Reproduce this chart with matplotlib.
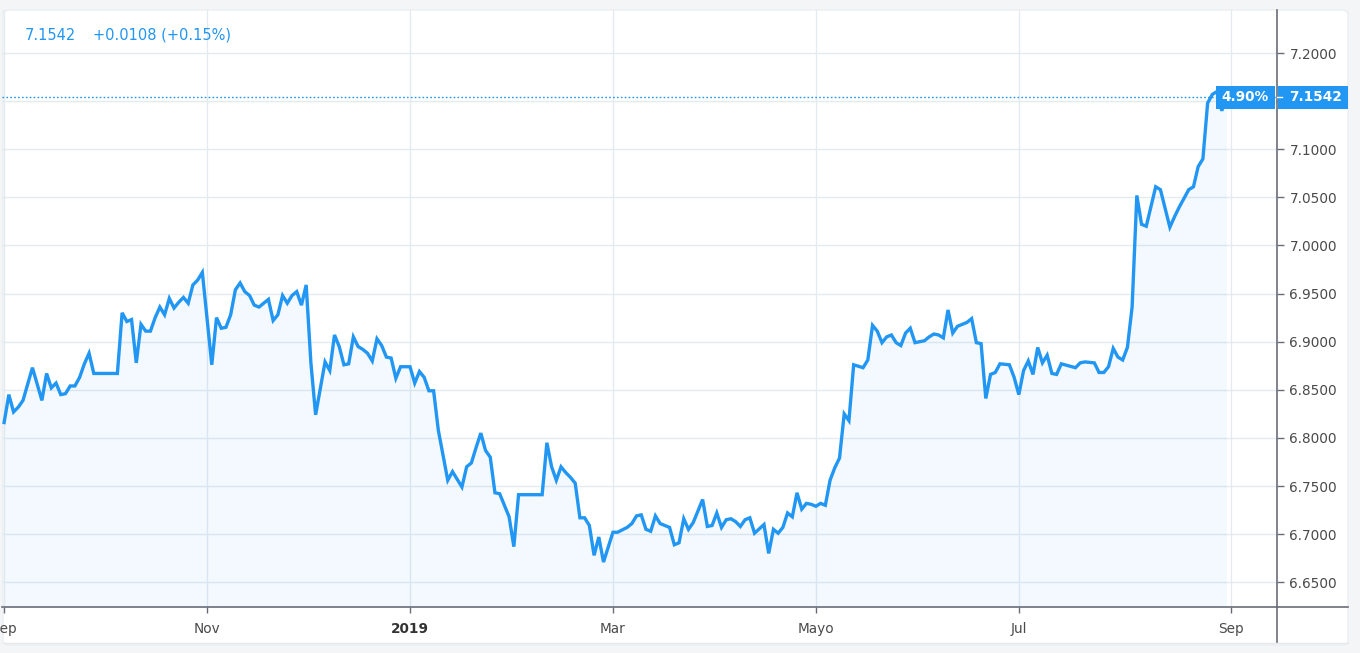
import numpy as np
import pandas as pd

import matplotlib
matplotlib.use('Agg')
import matplotlib.pyplot as plt
from matplotlib.patches import FancyBboxPatch, Rectangle
from matplotlib.lines import Line2D

# USD/CNY daily closes (turning points)
dates = [
    '2018-09-03', '2018-09-04', '2018-09-05', '2018-09-06', '2018-09-07', '2018-09-11',
    '2018-09-13', '2018-09-14', '2018-09-17', '2018-09-18', '2018-09-19', '2018-09-20',
    '2018-09-21', '2018-09-24', '2018-09-25', '2018-09-26', '2018-09-27', '2018-09-28',
    '2018-10-05', '2018-10-08', '2018-10-09', '2018-10-10', '2018-10-11', '2018-10-12',
    '2018-10-15', '2018-10-16', '2018-10-17', '2018-10-18', '2018-10-19', '2018-10-22',
    '2018-10-23', '2018-10-24', '2018-10-25', '2018-10-26', '2018-10-29', '2018-10-30',
    '2018-10-31', '2018-11-02', '2018-11-05', '2018-11-06', '2018-11-07', '2018-11-08',
    '2018-11-09', '2018-11-12', '2018-11-13', '2018-11-14', '2018-11-15', '2018-11-16',
    '2018-11-19', '2018-11-20', '2018-11-21', '2018-11-22', '2018-11-23', '2018-11-26',
    '2018-11-27', '2018-11-28', '2018-11-29', '2018-11-30', '2018-12-03', '2018-12-04',
    '2018-12-06', '2018-12-07', '2018-12-10', '2018-12-11', '2018-12-12', '2018-12-13',
    '2018-12-14', '2018-12-17', '2018-12-18', '2018-12-19', '2018-12-20', '2018-12-21',
    '2018-12-24', '2018-12-25', '2018-12-26', '2018-12-27', '2018-12-28', '2019-01-01',
    '2019-01-02', '2019-01-03', '2019-01-04', '2019-01-07', '2019-01-08', '2019-01-09',
    '2019-01-11', '2019-01-14', '2019-01-16', '2019-01-17', '2019-01-18', '2019-01-21',
    '2019-01-22', '2019-01-23', '2019-01-24', '2019-01-25', '2019-01-28', '2019-01-30',
    '2019-01-31', '2019-02-01', '2019-02-08', '2019-02-11', '2019-02-12', '2019-02-13',
    '2019-02-14', '2019-02-15', '2019-02-18', '2019-02-19', '2019-02-20', '2019-02-21',
    '2019-02-22', '2019-02-25', '2019-02-26', '2019-02-27', '2019-03-01', '2019-03-04',
    '2019-03-06', '2019-03-07', '2019-03-08', '2019-03-11', '2019-03-12', '2019-03-13',
    '2019-03-14', '2019-03-15', '2019-03-19', '2019-03-20', '2019-03-21', '2019-03-22',
    '2019-03-25', '2019-03-26', '2019-03-28', '2019-03-29', '2019-04-01', '2019-04-02',
    '2019-04-03', '2019-04-04', '2019-04-05', '2019-04-08', '2019-04-09', '2019-04-10',
    '2019-04-11', '2019-04-12', '2019-04-16', '2019-04-17', '2019-04-18', '2019-04-19',
    '2019-04-22', '2019-04-23', '2019-04-24', '2019-04-25', '2019-04-26', '2019-04-29',
    '2019-04-30', '2019-05-01', '2019-05-02', '2019-05-03', '2019-05-06', '2019-05-07',
    '2019-05-08', '2019-05-09', '2019-05-10', '2019-05-13', '2019-05-15', '2019-05-16',
    '2019-05-17', '2019-05-20', '2019-05-21', '2019-05-22', '2019-05-23', '2019-05-24',
    '2019-05-27', '2019-05-28', '2019-05-29', '2019-05-30', '2019-06-03', '2019-06-04',
    '2019-06-05', '2019-06-06', '2019-06-07', '2019-06-10', '2019-06-11', '2019-06-12',
    '2019-06-14', '2019-06-17', '2019-06-18', '2019-06-19', '2019-06-20', '2019-06-21',
    '2019-06-24', '2019-06-25', '2019-06-27', '2019-06-28', '2019-07-01', '2019-07-02',
    '2019-07-03', '2019-07-04', '2019-07-05', '2019-07-08', '2019-07-09', '2019-07-10',
    '2019-07-11', '2019-07-12', '2019-07-17', '2019-07-18', '2019-07-19', '2019-07-23',
    '2019-07-24', '2019-07-25', '2019-07-26', '2019-07-29', '2019-07-30', '2019-07-31',
    '2019-08-01', '2019-08-02', '2019-08-05', '2019-08-06', '2019-08-07', '2019-08-09',
    '2019-08-12', '2019-08-14', '2019-08-15', '2019-08-16', '2019-08-20', '2019-08-21',
    '2019-08-22', '2019-08-23', '2019-08-26', '2019-08-27', '2019-08-28', '2019-08-29',
    '2019-08-30',
]

values = [
    6.816, 6.845, 6.827, 6.832, 6.839, 6.873,
    6.839, 6.867, 6.852, 6.857, 6.845, 6.846,
    6.854, 6.854, 6.863, 6.877, 6.888, 6.867,
    6.867, 6.930, 6.921, 6.923, 6.878, 6.918,
    6.911, 6.911, 6.925, 6.936, 6.928, 6.945,
    6.935, 6.941, 6.946, 6.940, 6.959, 6.964,
    6.972, 6.876, 6.925, 6.914, 6.915, 6.928,
    6.954, 6.961, 6.952, 6.948, 6.938, 6.936,
    6.940, 6.944, 6.922, 6.928, 6.948, 6.940,
    6.948, 6.952, 6.938, 6.959, 6.878, 6.824,
    6.879, 6.870, 6.907, 6.895, 6.876, 6.877,
    6.905, 6.895, 6.892, 6.888, 6.880, 6.903,
    6.896, 6.884, 6.883, 6.862, 6.874, 6.874,
    6.857, 6.869, 6.863, 6.849, 6.849, 6.808,
    6.756, 6.765, 6.749, 6.770, 6.774, 6.790,
    6.805, 6.787, 6.780, 6.743, 6.742, 6.718,
    6.687, 6.741, 6.741, 6.795, 6.770, 6.756,
    6.770, 6.764, 6.759, 6.753, 6.717, 6.717,
    6.709, 6.678, 6.697, 6.671, 6.702, 6.702,
    6.707, 6.711, 6.719, 6.720, 6.705, 6.703,
    6.719, 6.711, 6.707, 6.689, 6.691, 6.716,
    6.705, 6.712, 6.736, 6.708, 6.709, 6.722,
    6.707, 6.715, 6.716, 6.713, 6.708, 6.715,
    6.717, 6.701, 6.710, 6.680, 6.705, 6.701,
    6.707, 6.722, 6.718, 6.743, 6.726, 6.732,
    6.731, 6.729, 6.732, 6.730, 6.756, 6.769,
    6.779, 6.825, 6.818, 6.876, 6.873, 6.881,
    6.917, 6.911, 6.899, 6.905, 6.907, 6.899,
    6.896, 6.909, 6.914, 6.899, 6.901, 6.905,
    6.908, 6.907, 6.904, 6.933, 6.909, 6.916,
    6.920, 6.924, 6.899, 6.898, 6.841, 6.866,
    6.868, 6.877, 6.876, 6.863, 6.845, 6.870,
    6.880, 6.866, 6.894, 6.878, 6.886, 6.867,
    6.866, 6.877, 6.873, 6.878, 6.879, 6.878,
    6.868, 6.868, 6.874, 6.893, 6.884, 6.881,
    6.894, 6.936, 7.052, 7.022, 7.020, 7.061,
    7.058, 7.019, 7.030, 7.040, 7.058, 7.061,
    7.082, 7.090, 7.148, 7.157, 7.160, 7.140,
    7.1542,
]

tick_dates = ['2018-09-03', '2018-11-01', '2019-01-01', '2019-03-01',
              '2019-05-01', '2019-07-01', '2019-09-02']
tick_labels = ['Sep', 'Nov', '2019', 'Mar', 'Mayo', 'Jul', 'Sep']
y_ticks = [6.65, 6.70, 6.75, 6.80, 6.85, 6.90, 6.95, 7.00, 7.05, 7.10, 7.15, 7.20]

last_price = '7.1542'
change_text = '+0.0108 (+0.15%)'
pct_label = '4.90%'

BLUE = '#2196f3'
GRID = '#e3ebf1'
AXIS = '#6a6d78'
TEXT = '#4a4a4a'

W, H = 1360, 653


def fx(px):
    return px / W


def fy(py):
    return 1 - py / H


# TradingView spaces bars evenly, so use a session (business-day) index for x
sessions = pd.bdate_range('2018-09-03', '2019-09-30')
x = sessions.get_indexer(pd.to_datetime(dates))
xt = sessions.get_indexer(pd.to_datetime(tick_dates))
y = np.array(values)

fig = plt.figure(figsize=(W / 100, H / 100), dpi=100)
fig.patch.set_facecolor('#f4f5f7')

# white rounded panel behind the chart
panel = FancyBboxPatch((fx(3), fy(645)), fx(1348 - 3), (645 - 10) / H,
                       boxstyle='round,pad=0,rounding_size=0.006',
                       transform=fig.transFigure, facecolor='white',
                       edgecolor='#e9ebee', lw=0.8, zorder=-10)
fig.add_artist(panel)

ax = fig.add_axes([fx(2), fy(607), fx(1277 - 2), (607 - 10) / H])
ax.set_facecolor('none')
ax.set_zorder(1)

ax.plot(x, y, color=BLUE, lw=2.4, solid_joinstyle='miter', zorder=3)
ax.fill_between(x, y, 6.60, color=BLUE, alpha=0.05, lw=0, zorder=2)

ax.axhline(values[-1], color=BLUE, lw=1, ls=(0, (1.2, 1.6)), zorder=2)

ax.set_ylim(6.6243, 7.2447)
ax.set_xlim(-0.45, 269.7)

ax.set_xticks(xt)
ax.set_xticklabels(tick_labels)
ax.set_yticks(y_ticks)
# the 7.1500 label sits under the last-price tag, so it is left blank
ax.set_yticklabels(['' if abs(v - 7.15) < 1e-9 else f'{v:.4f}' for v in y_ticks])

ax.yaxis.tick_right()
ax.grid(True, color=GRID, lw=1, zorder=0)
for s in ['top', 'left']:
    ax.spines[s].set_visible(False)
ax.spines['right'].set_color(AXIS)
ax.spines['bottom'].set_color(AXIS)
ax.spines['right'].set_linewidth(1.2)
ax.spines['bottom'].set_linewidth(1.2)

ax.tick_params(axis='y', length=5, width=1, color=AXIS, labelcolor=TEXT,
               labelsize=9.8, pad=4)
ax.tick_params(axis='x', length=4, width=1, color=AXIS, labelcolor=TEXT,
               labelsize=9.8, pad=7)
for lab in ax.get_xticklabels():
    if lab.get_text() == '2019':
        lab.set_fontweight('bold')
        lab.set_color('#333333')

# axis lines running into the bottom-right corner of the panel
fig.add_artist(Line2D([fx(1277), fx(1277)], [fy(607), fy(643)],
                      transform=fig.transFigure, color=AXIS, lw=1.2))
fig.add_artist(Line2D([fx(1277), fx(1348)], [fy(607), fy(607)],
                      transform=fig.transFigure, color=AXIS, lw=1.2))
fig.add_artist(Line2D([fx(3), fx(1348)], [fy(643), fy(643)],
                      transform=fig.transFigure, color='#e6e8eb', lw=1))

# last-price tags
fig.canvas.draw()
ypx = ax.transData.transform((0, values[-1]))[1]
ybox = ypx / H
bh = 23 / H
fig.add_artist(Rectangle((fx(1278), ybox - bh / 2), fx(70), bh,
                         transform=fig.transFigure, facecolor=BLUE, lw=0, zorder=5))
fig.add_artist(Rectangle((fx(1216), ybox - bh / 2), fx(59), bh,
                         transform=fig.transFigure, facecolor=BLUE, lw=0, zorder=5))
fig.add_artist(Line2D([fx(1277), fx(1282)], [ybox, ybox],
                      transform=fig.transFigure, color='white', lw=1, zorder=6))
fig.text(fx(1289), ybox, last_price, color='white', fontsize=9.8,
         fontweight='bold', va='center', ha='left', zorder=7)
fig.text(fx(1268), ybox, pct_label, color='white', fontsize=9.8,
         fontweight='bold', va='center', ha='right', zorder=7)

# legend line at top left
fig.text(fx(25), fy(35), last_price, color=BLUE, fontsize=10.5, va='center')
fig.text(fx(93), fy(35), change_text, color=BLUE, fontsize=10.5, va='center')

fig.savefig('out.png', dpi=100, facecolor=fig.get_facecolor())
